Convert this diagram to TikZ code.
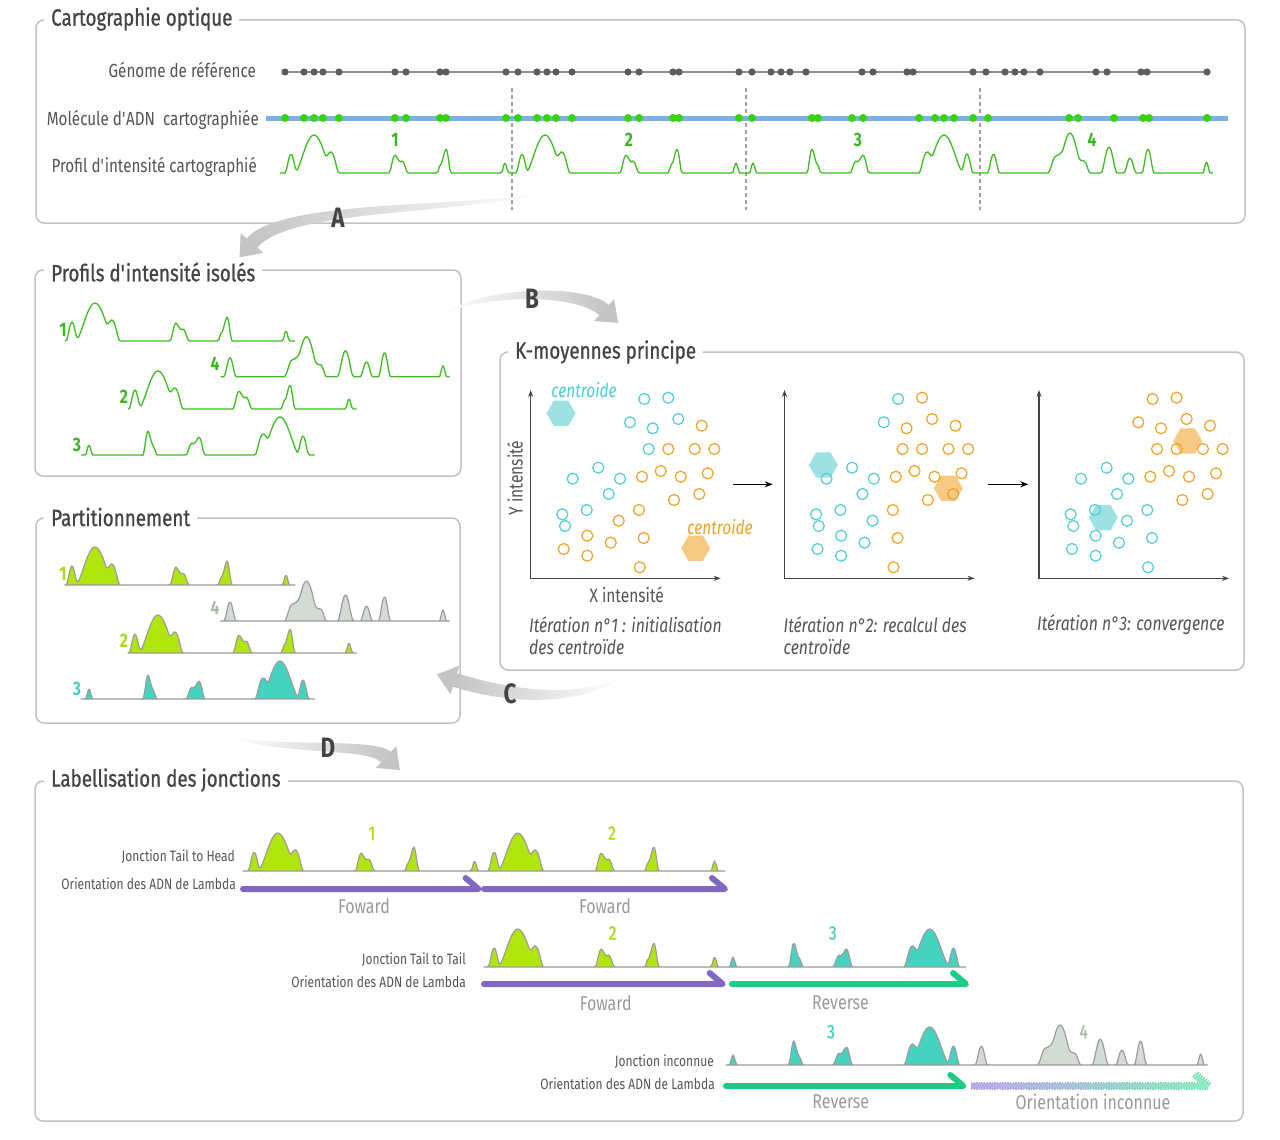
\documentclass[tikz,border=0pt]{standalone}
\usepackage{fontspec}
\setmainfont[FakeStretch=0.8]{Fira Sans}
\newfontfamily\ttlf[FakeStretch=0.8,FakeBold=0.8]{Fira Sans}
\usetikzlibrary{shapes.geometric,arrows.meta,calc}
\newcommand\ap{\XeTeXglyph\XeTeXcharglyph39 }
\definecolor{boxc}{HTML}{C2C2C2}
\definecolor{txtd}{HTML}{444444}
\definecolor{txtm}{HTML}{555555}
\definecolor{txtl}{HTML}{9A9A9A}
\definecolor{gline}{HTML}{3DBE1F}
\definecolor{gdot}{HTML}{36D40A}
\definecolor{gnum}{HTML}{38B81C}
\definecolor{blueline}{HTML}{7DB0EA}
\definecolor{refdot}{HTML}{5C5C5C}
\definecolor{refline}{HTML}{8E8E8E}
\definecolor{dashc}{HTML}{A0A0A0}
\definecolor{limef}{HTML}{B0E60E}
\definecolor{limet}{HTML}{A6DC12}
\definecolor{tealf}{HTML}{45D3BF}
\definecolor{ggf}{HTML}{D4DBD4}
\definecolor{ggt}{HTML}{A9BCA9}
\definecolor{outl}{HTML}{9C9C9C}
\definecolor{purp}{HTML}{8168C2}
\definecolor{garr}{HTML}{19CD85}
\definecolor{cyc}{HTML}{4DCFD6}
\definecolor{orc}{HTML}{F0A326}
\definecolor{cyh}{HTML}{9DE1E0}
\definecolor{orh}{HTML}{F6CA82}
\definecolor{arrg}{HTML}{C4C4C4}
\definecolor{lpur}{HTML}{B9A9EA}
\definecolor{lgrn}{HTML}{8EEAC2}
\pgfmathdeclarefunction{bmp}{3}{\pgfmathparse{(1-min(abs(#1-(#2))/#3,1)^2)^2}}
\pgfmathdeclarefunction{patA}{1}{\pgfmathparse{19*bmp(#1,6,6)+38*bmp(#1,29,20)+19*bmp(#1,47,7)+18*bmp(#1,110,6)+12*bmp(#1,117,6)+9*bmp(#1,156,4)+24*bmp(#1,161,5)+10*bmp(#1,220,3.5)}}
\pgfmathdeclarefunction{patR}{1}{\pgfmathparse{patA(221-(#1))}}
\pgfmathdeclarefunction{patB}{1}{\pgfmathparse{19*bmp(#1,7.5,6)+17*bmp(#1,70,8)+40*bmp(#1,84,14)+12*bmp(#1,98,6)+26*bmp(#1,123,8)+15*bmp(#1,144,6)+24*bmp(#1,162,6)+11*bmp(#1,220.5,3.5)}}
\newcommand\pf[6]{plot[smooth,domain=#3:#4,samples=140]({#1+#6*\x},{#2-#5(\x)})}
\newcommand\bigarr[6]{%
  \coordinate (#1S) at #2; \coordinate (#1C1) at #3; \coordinate (#1C2) at #4; \coordinate (#1E) at #5;
  \shade[#6] (#1S) .. controls ($(#1C1)!4pt!-90:(#1C2)$) and ($(#1C2)!7pt!-90:(#1E)$) .. ($(#1E)!7pt!90:(#1C2)$)
     -- ($(#1E)!7pt!-90:(#1C2)$) .. controls ($(#1C2)!7pt!90:(#1E)$) and ($(#1C1)!4pt!90:(#1C2)$) .. (#1S) -- cycle;
  \fill[arrg] ($(#1E)!-19pt!(#1C2)$) -- ($(#1E)!15pt!90:(#1C2)$) -- ($(#1E)!15pt!-90:(#1C2)$) -- cycle;
}
\begin{document}
\begin{tikzpicture}[x=1pt,y=-1pt,
  box/.style={draw=boxc,line width=1.5pt,rounded corners=8pt},
  ttl/.style={anchor=west,fill=white,inner xsep=7pt,inner ysep=1pt,text=txtd,font=\ttlf\fontsize{23.5}{27}\selectfont},
  lab/.style={anchor=east,inner sep=0pt,text=txtm,font=\fontsize{19}{22}\selectfont},
  slab/.style={anchor=east,inner sep=0pt,text=txtm,font=\fontsize{15}{17}\selectfont},
  olab/.style={inner sep=0pt,text=txtl,font=\fontsize{20}{22}\selectfont},
  pnum/.style={inner sep=0pt,font=\bfseries\fontsize{19.5}{22}\selectfont},
  bnum/.style={inner sep=0pt,font=\ttlf\fontsize{19.5}{22}\selectfont},
  pl/.style={line width=1.3pt,line join=round},
  fl/.style={line width=1.2pt,line join=round,draw=outl},
  orarr/.style={line width=6pt,line cap=round,line join=round},
  axis/.style={draw=txtd,line width=1.3pt,{Stealth[length=7pt,width=5pt]}-{Stealth[length=7pt,width=5pt]}},
  kar/.style={draw=black,line width=1.3pt,-{Stealth[length=8pt,width=6pt]}},
  cpt/.style={draw=cyc,line width=1.2pt},
  opt/.style={draw=orc,line width=1.2pt},
  hexc/.style={regular polygon,regular polygon sides=6,minimum size=29pt,inner sep=0pt,fill=cyh},
  hexo/.style={regular polygon,regular polygon sides=6,minimum size=29pt,inner sep=0pt,fill=orh},
  axl/.style={inner sep=0pt,text=txtm,font=\fontsize{19.4}{22}\selectfont},
  capt/.style={anchor=west,inner sep=0pt,text=txtm,font=\itshape\fontsize{19.7}{22}\selectfont},
  cen/.style={inner sep=0pt,font=\itshape\fontsize{19.4}{22}\selectfont},
  letr/.style={inner sep=0pt,text=txtd,font=\bfseries\fontsize{28}{30}\selectfont}
]
\useasboundingbox (0,0) rectangle (1280,1140);
\fill[white] (0,0) rectangle (1280,1140);

% ---------- panel 1 ----------
\draw[box] (36,20) rectangle (1245,223);
\node[ttl] (t1) at (44,19) {Cartographie optique};
\node[lab] (lg) at (256,70) {Génome de référence};
\node[lab] (lm) at (259,120) {Molécule d\ap ADN\ \ cartographiée};
\node[lab] (lp) at (257,167) {Profil d\ap intensité cartographié};
\foreach \xx in {512,746,980} \draw[dashc,line width=1.2pt,dash pattern=on 4pt off 3pt] (\xx,88) -- (\xx,210);
\draw[refline,line width=2.2pt] (285,72) -- (1208,72);
\foreach \s in {285,518,752,986} \foreach \o in {0,19,29,38,54,110,121,155,161,221} \fill[refdot] (\s+\o,72) circle (3.6pt);
\draw[blueline,line width=5pt] (266,118) -- (1228,118);
\foreach \s in {285,518} \foreach \o in {0,19,29,38,54,110,121,155,161,221} \fill[gdot] (\s+\o,118) circle (4pt);
\foreach \o in {0,19,29,38,54,110,121,155,161,221} \fill[gdot] (973-\o,118) circle (4pt);
\foreach \xx in {988,1069,1078,1114,1143,1149,1207} \fill[gdot] (\xx,118) circle (4pt);
\draw[pl,gline] \pf{285}{173}{-5}{231}{patA}{1};
\draw[pl,gline] \pf{516}{173}{0}{232}{patA}{1};
\draw[pl,gline] \pf{752}{173}{-4}{234}{patR}{1};
\draw[pl,gline] \pf{986}{173}{0}{227}{patB}{1};
\node[pnum,text=gnum] (n1) at (395,140) {1};
\node[pnum,text=gnum] (n2) at (629,140) {2};
\node[pnum,text=gnum] (n3) at (858,140) {3};
\node[pnum,text=gnum] (n4) at (1092,140) {4};

% ---------- panel 2 ----------
\draw[box] (35,270) rectangle (461,476);
\node[ttl] (t2) at (44,272) {Profils d\ap intensité isolés};
\draw[pl,gline] \pf{66}{341}{-1}{229}{patA}{1};
\draw[pl,gline] \pf{222.5}{376.7}{-2}{227}{patB}{1};
\draw[pl,gline] \pf{129}{409}{-1}{227.5}{patA}{1};
\draw[pl,gline] \pf{88}{455}{-7}{226.5}{patR}{1};
\node[pnum,text=gnum] (i1) at (63,330) {1};
\node[pnum,text=gnum] (i4) at (215,364) {4};
\node[pnum,text=gnum] (i2) at (124,397) {2};
\node[pnum,text=gnum] (i3) at (77,445) {3};

% ---------- panel 3 ----------
\draw[box] (36,518) rectangle (460,723);
\node[ttl] (t3) at (44,517) {Partitionnement};
\filldraw[fl,fill=limef] \pf{66}{585}{-1}{229}{patA}{1} -- cycle;
\filldraw[fl,fill=ggf] \pf{222.5}{621}{-2}{227}{patB}{1} -- cycle;
\filldraw[fl,fill=limef] \pf{129}{653}{-1}{227.5}{patA}{1} -- cycle;
\filldraw[fl,fill=tealf] \pf{88}{699}{-7}{226.5}{patR}{1} -- cycle;
\node[pnum,text=limet] (q1) at (63,574) {1};
\node[pnum,text=ggt] (q4) at (215,608) {4};
\node[pnum,text=limet] (q2) at (124,641) {2};
\node[pnum,text=tealf] (q3) at (77,689) {3};

% ---------- panel 4 ----------
\draw[box] (500,352) rectangle (1244,670);
\node[ttl] (t4) at (508,352) {K-moyennes principe};
\foreach \sh in {0,253.8,508.3}{
  \draw[axis] (530.7+\sh,390) -- (530.7+\sh,578.3) -- (720.7+\sh,578.3);
}
\node[axl,rotate=90] (yl) at (515,478) {Y intensité};
\node[axl] (xl) at (626.7,595) {X intensité};
\node[hexc] (hc1) at (561,413.3) {};
\node[hexo] (ho1) at (695.7,548.3) {};
\node[hexc] (hc2) at (823.3,465) {};
\node[hexo] (ho2) at (948.3,488.3) {};
\node[hexc] (hc3) at (1103.3,517.7) {};
\node[hexo] (ho3) at (1187.7,441) {};
\node[cen,text=cyc] (ce1) at (584,390) {centroide};
\node[cen,text=orc] (ce2) at (720,526.7) {centroide};
\def\GA{(572.7,478.7),(598.3,467.7),(620,478.7),(608.7,494),(586.7,510),(562.3,514.3),(565,526)}
\def\GB{(644.3,399),(630,422.3)}
\def\GC{(668.3,397.7),(652.7,428.3),(678.3,419),(648.7,449)}
\def\GD{(587.3,535.7),(610.7,542.7),(563.7,549),(587.3,555.7),(618.7,520.7)}
\def\GE{(639,510),(643.7,538),(639.7,567.3)}
\def\GF{(701.7,425.7),(668.3,449),(694.7,449),(714.3,449),(642,476.7),(660.7,471),(680.7,476.7),(707.7,473.3),(699.3,494),(674,500)}
\foreach \p in \GA \draw[cpt] \p circle (5.5pt);
\foreach \p in \GB \draw[cpt] \p circle (5.5pt);
\foreach \p in \GC \draw[cpt] \p circle (5.5pt);
\foreach \p in \GD \draw[opt] \p circle (5.5pt);
\foreach \p in \GE \draw[opt] \p circle (5.5pt);
\foreach \p in \GF \draw[opt] \p circle (5.5pt);
\begin{scope}[xshift=253.8pt]
\foreach \p in \GA \draw[cpt] \p circle (5.5pt);
\foreach \p in \GB \draw[cpt] \p circle (5.5pt);
\foreach \p in \GC \draw[opt] \p circle (5.5pt);
\foreach \p in \GD \draw[cpt] \p circle (5.5pt);
\foreach \p in \GE \draw[opt] \p circle (5.5pt);
\foreach \p in \GF \draw[opt] \p circle (5.5pt);
\end{scope}
\begin{scope}[xshift=508.3pt]
\foreach \p in \GA \draw[cpt] \p circle (5.5pt);
\foreach \p in \GB \draw[opt] \p circle (5.5pt);
\foreach \p in \GC \draw[opt] \p circle (5.5pt);
\foreach \p in \GD \draw[cpt] \p circle (5.5pt);
\foreach \p in \GE \draw[cpt] \p circle (5.5pt);
\foreach \p in \GF \draw[opt] \p circle (5.5pt);
\end{scope}
\coordinate (k1a) at (733,484.3); \coordinate (k1b) at (772.7,484.3);
\coordinate (k2a) at (988.3,484.3); \coordinate (k2b) at (1028.3,484.3);
\draw[kar] (k1a) -- (k1b);
\draw[kar] (k2a) -- (k2b);
\node[capt] (c1a) at (529,625) {Itération n°1 : initialisation};
\node[capt] (c1b) at (529,647) {des centroïde};
\node[capt] (c2a) at (783.5,625) {Itération n°2: recalcul des};
\node[capt] (c2b) at (783.5,647) {centroïde};
\node[capt] (c3a) at (1037,625) {Itération n°3: convergence};

% ---------- panel 5 ----------
\draw[box] (35,781) rectangle (1243,1121);
\node[ttl] (t5) at (44,780) {Labellisation des jonctions};
\node[slab] (r1l) at (235,857) {Jonction Tail to Head};
\node[slab] (r1o) at (236,884) {Orientation des ADN de Lambda};
\node[slab] (r2l) at (466,960) {Jonction Tail to Tail};
\node[slab] (r2o) at (466,982) {Orientation des ADN de Lambda};
\node[slab] (r3l) at (714,1062) {Jonction inconnue};
\node[slab] (r3o) at (715,1084) {Orientation des ADN de Lambda};
\filldraw[fl,fill=limef] \pf{248}{871}{-5}{233}{patA}{1.03} -- cycle;
\filldraw[fl,fill=limef] \pf{488}{871}{0}{230}{patA}{1.03} -- cycle;
\node[bnum,text=limet] (b11) at (372,833) {1};
\node[bnum,text=limet] (b12) at (612,833) {2};
\coordinate (a1s) at (243,889); \coordinate (a1e) at (478.6,889);
\coordinate (a2s) at (484,889); \coordinate (a2e) at (725,889);
\draw[orarr,purp] (a1s) -- (a1e) -- ++(-13,-11);
\draw[orarr,purp] (a2s) -- (a2e) -- ++(-13,-11);
\node[olab] (f1) at (364,906) {Foward};
\node[olab] (f2) at (605,906) {Foward};
\filldraw[fl,fill=limef] \pf{488}{967}{-4}{233}{patA}{1.03} -- cycle;
\filldraw[fl,fill=tealf] \pf{732}{967}{-3.9}{227}{patR}{1.03} -- cycle;
\node[bnum,text=limet] (b22) at (612.6,933) {2};
\node[bnum,text=tealf] (b23) at (832.8,933) {3};
\coordinate (a3s) at (484,984); \coordinate (a3e) at (722.7,984);
\coordinate (a4s) at (732,984); \coordinate (a4e) at (966,984);
\draw[orarr,purp] (a3s) -- (a3e) -- ++(-13,-11);
\draw[orarr,garr] (a4s) -- (a4e) -- ++(-13,-11);
\node[olab] (f3) at (605.7,1003) {Foward};
\node[olab] (f4) at (840.5,1003) {Reverse};
\filldraw[fl,fill=tealf] \pf{732}{1065}{-5.8}{234.6}{patR}{1.03} -- cycle;
\filldraw[fl,fill=ggf] \pf{973.6}{1065}{0}{227}{patB}{1.03} -- cycle;
\node[bnum,text=tealf] (b33) at (831,1031.7) {3};
\node[bnum,text=ggt] (b34) at (1083.7,1031.7) {4};
\coordinate (a5s) at (726,1086); \coordinate (a5e) at (963.4,1086);
\draw[orarr,garr] (a5s) -- (a5e) -- ++(-13,-11);
\coordinate (a6s) at (971,1086); \coordinate (a6m) at (1090,1086); \coordinate (a6e) at (1208.7,1086);
\draw[line width=8pt,dash pattern=on 1.3pt off 1.3pt,draw=purp!60] (a6s) -- (a6m);
\draw[line width=8pt,dash pattern=on 1.3pt off 1.3pt,draw=garr!70] (a6m) -- (a6e);
\draw[line width=8pt,dash pattern=on 1.3pt off 1.3pt,draw=garr!70,line join=round] (a6e) -- ++(-14,-12);
\shade[left color=lpur,right color=lgrn] (972,1083.5) rectangle (1208,1088.5);
\draw[line width=5pt,lgrn] (1207,1086) -- ++(-13,-11);
\node[olab] (f5) at (840.8,1101.7) {Reverse};
\node[olab] (f6) at (1093,1101.7) {Orientation inconnue};

% ---------- big gray arrows ----------
\bigarr{A}{(548,193)}{(440,212)}{(285,205)}{(252,243)}{left color=arrg,right color=white}
\node[letr] (LA) at (338,218) {A};
\bigarr{B}{(440,316)}{(480,290)}{(580,288)}{(604,310)}{left color=white,right color=arrg}
\node[letr] (LB) at (532,299) {B};
\bigarr{C}{(622,678)}{(580,700)}{(520,700)}{(455,680)}{left color=arrg,right color=white}
\node[letr] (LC) at (510,694) {C};
\bigarr{D}{(228,736)}{(280,752)}{(370,742)}{(386,757)}{left color=white,right color=arrg}
\node[letr] (LD) at (328,748) {D};
\end{tikzpicture}
\end{document}
